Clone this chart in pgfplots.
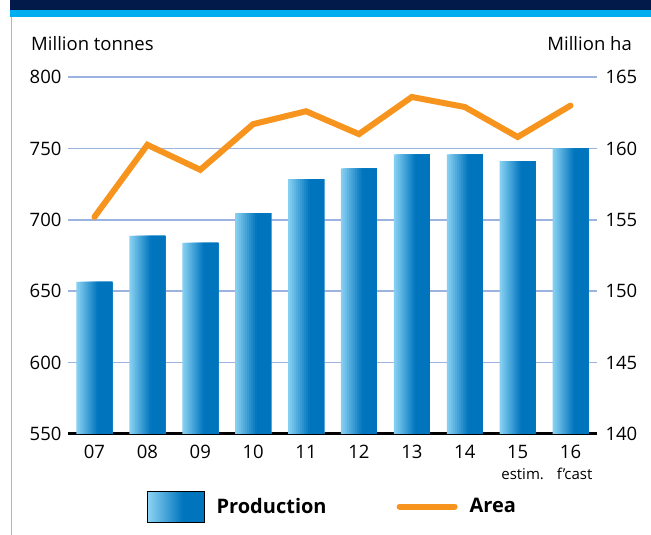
\documentclass[border=0pt]{standalone}
\usepackage{pgfplots}
\pgfplotsset{compat=1.18}
\usepackage{fontspec}
\setmainfont{Open Sans}
\definecolor{navy}{HTML}{021A4A}
\definecolor{cyanband}{HTML}{00AEEF}
\definecolor{framec}{HTML}{6CCDF2}
\definecolor{barlight}{HTML}{8DD4F4}
\definecolor{bardark}{HTML}{0075BE}
\definecolor{gridc}{HTML}{9BB3DE}
\definecolor{areac}{HTML}{F7941D}
\colorlet{s0}{bardark!5!barlight}
\colorlet{s1}{bardark!14!barlight}
\colorlet{s2}{bardark!23!barlight}
\colorlet{s3}{bardark!32!barlight}
\colorlet{s4}{bardark!42!barlight}
\colorlet{s5}{bardark!51!barlight}
\colorlet{s6}{bardark!60!barlight}
\colorlet{s7}{bardark!69!barlight}
\colorlet{s8}{bardark!79!barlight}
\colorlet{s9}{bardark!88!barlight}
\colorlet{s10}{bardark!97!barlight}
\colorlet{s11}{bardark}
\pgfdeclarehorizontalshading{barshade}{100bp}{color(0bp)=(barlight); color(25bp)=(barlight); color(56bp)=(bardark); color(100bp)=(bardark)}
\pgfplotstableread{
x prod area
0 656.5 155.2
1 688.7 160.25
2 683.8 158.5
3 704.7 161.7
4 728.4 162.6
5 736.0 161.0
6 745.8 163.6
7 745.8 162.9
8 741.0 160.8
9 750.0 163.0
}\datatable
\begin{document}
\begin{tikzpicture}[x=1pt,y=1pt]
\useasboundingbox (0,0) rectangle (651,535);
\fill[navy] (10,525) rectangle (651,535);
\fill[cyanband] (10,518) rectangle (651,525);
\draw[framec, line width=1.5pt] (11.5,0) -- (11.5,518);
\begin{axis}[
  at={(68pt,101pt)}, anchor=south west,
  width=529pt, height=357pt, scale only axis,
  xmin=-0.5, xmax=9.5, ymin=550, ymax=800,
  xtick={0,...,9},
  xticklabels={07,08,09,10,11,12,13,14,{15\\[0pt]{\fontsize{15}{16}\selectfont\hspace*{10pt}estim.}},{16\\[0pt]{\fontsize{15}{16}\selectfont\hspace*{8pt}f’cast}}},
  xticklabel style={align=center, yshift=-8pt},
  ytick={550,600,...,800},
  axis x line*=bottom, axis y line*=left,
  x axis line style={black, line width=3pt, -},
  y axis line style={draw=none},
  major tick length=0pt,
  ymajorgrids, grid style={gridc, line width=1.5pt},
  ticklabel style={font=\fontsize{18.5}{21}\selectfont},
  yticklabel style={xshift=-3pt},
  /pgf/number format/assume math mode=true,
]
\pgfplotsinvokeforeach{0,...,11}{
  \addplot[ybar, bar width={(36-2*#1)*1pt}, bar shift={#1*1pt}, draw=none, fill=s#1]
    table[x=x, y=prod] {\datatable};
}
\end{axis}
\begin{axis}[
  at={(68pt,101pt)}, anchor=south west,
  width=529pt, height=357pt, scale only axis,
  xmin=-0.5, xmax=9.5, ymin=140, ymax=165,
  axis x line=none, axis y line*=right,
  y axis line style={draw=none},
  ytick={140,145,...,165},
  major tick length=0pt,
  ticklabel style={font=\fontsize{18.5}{21}\selectfont},
  yticklabel style={xshift=5pt},
  /pgf/number format/assume math mode=true,
  legend columns=2,
  legend style={draw=none, fill=none, at={(0.1437,-0.2031)}, anchor=west,
    font=\fontsize{20}{24}\selectfont\bfseries,
    /tikz/every odd column/.append style={column sep=10pt},
    /tikz/every even column/.append style={column sep=68pt}},
]
\addlegendimage{legend image code/.code={\shade[shading=barshade] (0pt,-15.5pt) rectangle (57pt,15.5pt);}}
\addlegendentry{Production}
\addplot[areac, line width=6pt, line join=miter, line cap=round,
  legend image code/.code={\draw[areac, line width=6pt, line cap=round] (0pt,0pt) -- (55pt,0pt);}]
  table[x=x, y=area] {\datatable};
\addlegendentry{Area}
\end{axis}
\node[anchor=base west, font=\fontsize{18.5}{21}\selectfont, inner sep=0pt] at (31,484.3) {Million tonnes};
\node[anchor=base east, font=\fontsize{18.5}{21}\selectfont, inner sep=0pt] at (632,484.3) {Million ha};
\end{tikzpicture}
\end{document}
